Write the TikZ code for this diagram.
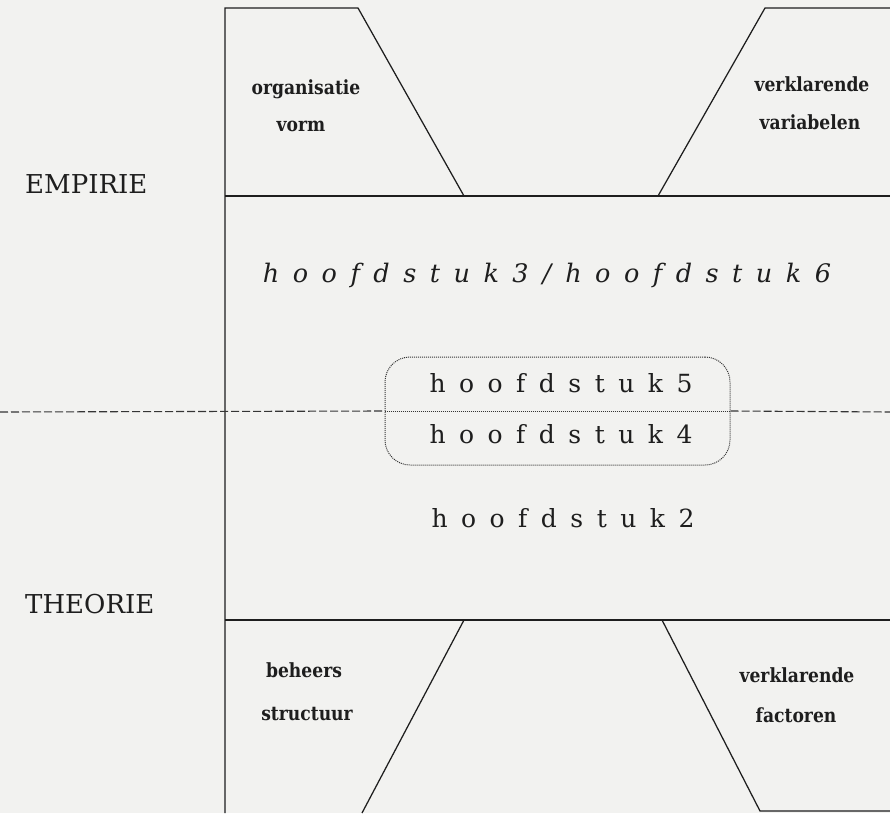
\documentclass[tikz,border=0pt]{standalone}
\usepackage{fontspec}
\setmainfont{DejaVu Serif}
\definecolor{bgcol}{RGB}{242,242,240}
\definecolor{ink}{RGB}{30,30,30}
\newlength\spreadamt
\setlength\spreadamt{13.5pt}
\makeatletter
\def\spread#1{\spread@aux#1\relax}
\def\spread@aux#1{\ifx#1\relax\unkern\else#1\kern\spreadamt\expandafter\spread@aux\fi}
\makeatother
\newcommand\narrow[1]{\scalebox{0.88}[1]{#1}}
\tikzset{
  ln/.style={draw=ink, line width=1.25pt},
  dashln/.style={draw=ink!90, line width=1.1pt, dash pattern=on 8pt off 3pt},
  dotln/.style={draw=ink!90, line width=1pt, dash pattern=on 1pt off 1pt},
  side/.style={text=ink, inner sep=0pt, anchor=base west, font=\fontsize{26}{30}\selectfont},
  lab/.style={text=ink, inner sep=0pt, anchor=base, font=\bfseries\fontsize{19.5}{24}\selectfont},
  chap/.style={text=ink, inner sep=0pt, anchor=base, font=\fontsize{25}{30}\selectfont},
  chapit/.style={text=ink, inner sep=0pt, anchor=base, font=\itshape\fontsize{25.5}{30}\selectfont}
}
\begin{document}
\begin{tikzpicture}[x=1pt,y=-1pt]
\fill[bgcol] (0,0) rectangle (890,813);
\useasboundingbox (0,0) rectangle (890,813);
% coordinates
\coordinate (vb) at (225,813);
\coordinate (tl) at (225,8);
\coordinate (tla) at (358,8);
\coordinate (tlb) at (464,196);
\coordinate (ml) at (225,196);
\coordinate (mr) at (890,196);
\coordinate (tra) at (658,196);
\coordinate (trb) at (765,8);
\coordinate (trc) at (890,8);
\coordinate (bl) at (225,620);
\coordinate (br) at (890,620);
\coordinate (bla) at (464,620);
\coordinate (blb) at (362,813);
\coordinate (bra) at (662,620);
\coordinate (brb) at (760,811);
\coordinate (brc) at (890,811);
\coordinate (dl) at (0,412);
\coordinate (dr) at (890,412);
% frame lines
\draw[ln] (vb) -- (tl) -- (tla) -- (tlb);
\draw[ln] (ml) -- (mr);
\draw[ln] (tra) -- (trb) -- (trc);
\draw[ln] (bl) -- (br);
\draw[ln] (bla) -- (blb);
\draw[ln] (bra) -- (brb) -- (brc);
% chapter box
\node[dotln, rounded corners=25pt, minimum width=345pt, minimum height=108pt, inner sep=0pt] (box) at (557.5,411) {};
\draw[dotln] (box.west) -- (box.east);
\draw[dashln] (dl) -- (box.west);
\draw[dashln] (box.east) -- (dr);
% labels
\node[side] (emp) at (25,193) {EMPIRIE};
\node[side] (theo) at (25,613) {THEORIE};
\node[lab] (org1) at (306,95) {\narrow{organisatie}};
\node[lab] (org2) at (301,132) {\narrow{vorm}};
\node[lab] (ver1) at (812,92) {\narrow{verklarende}};
\node[lab] (ver2) at (810,130) {\narrow{variabelen}};
\node[lab] (beh1) at (304,677) {\narrow{beheers}};
\node[lab] (beh2) at (307,720) {\narrow{structuur}};
\node[lab] (fac1) at (797,682) {\narrow{verklarende}};
\node[lab] (fac2) at (796,722) {\narrow{factoren}};
% chapters
\node[chapit] (h36) at (547,282) {\spread{hoofdstuk3}\hspace{14pt}/\hspace{14pt}\spread{hoofdstuk6}};
\node[chap] (h5) at (561,392) {\spread{hoofdstuk5}};
\node[chap] (h4) at (561,443) {\spread{hoofdstuk4}};
\node[chap] (h2) at (563,527) {\spread{hoofdstuk2}};
\end{tikzpicture}
\end{document}
